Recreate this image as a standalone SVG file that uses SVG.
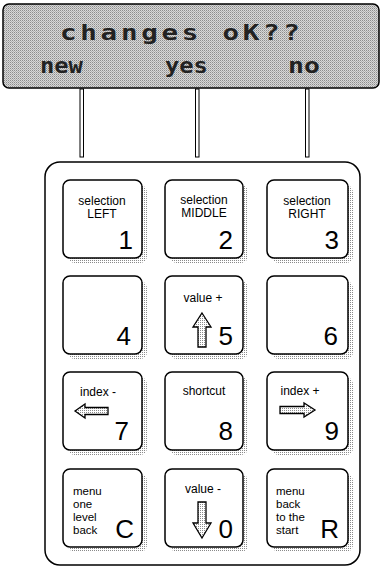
<svg xmlns="http://www.w3.org/2000/svg" width="382" height="567" viewBox="0 0 382 567">
<style>
.key{fill:#fff;stroke:#000;stroke-width:1.5}
.sh{fill:url(#dots)}
.lbl{font-family:"Liberation Sans",Arial,sans-serif;font-size:12px;fill:#000;text-anchor:middle}
.lt{font-family:"Liberation Sans",Arial,sans-serif;font-size:11.5px;fill:#000}
.big{font-family:"Liberation Sans",Arial,sans-serif;font-size:26px;fill:#000;text-anchor:end}
.lcd{font-family:"DejaVu Sans Mono","Liberation Mono",monospace;font-weight:bold;fill:#222;font-size:22px}
.arr{fill:url(#dots);stroke:#000;stroke-width:1.3;stroke-linejoin:miter}
.bar{fill:#fff;stroke:#000;stroke-width:1}
</style>
<defs>
<pattern id="dots" width="2" height="2" patternUnits="userSpaceOnUse">
<rect width="2" height="2" fill="#fff"/>
<rect width="1" height="1" fill="#8a8a8a"/>
</pattern>
<pattern id="lcdbg" width="2" height="2" patternUnits="userSpaceOnUse">
<rect width="2" height="2" fill="#d8d8d8"/>
<rect width="1" height="1" fill="#8c8c8c"/>
<rect x="1" y="1" width="1" height="1" fill="#b0b0b0"/>
</pattern>
</defs>
<rect width="382" height="567" fill="#fff"/>

<g id="lcd">
<rect x="3" y="4" width="376" height="84" rx="6" fill="url(#lcdbg)" stroke="#000" stroke-width="1.5"/>
<text class="lcd" transform="translate(60 40) scale(1.25 1)" x="0" y="0" letter-spacing="3">changes oK??</text>
<text class="lcd" transform="translate(40 73) scale(1.08 1)" x="0" y="0">new</text>
<text class="lcd" transform="translate(165 73) scale(1.08 1)" x="0" y="0">yes</text>
<text class="lcd" transform="translate(288 73) scale(1.2 1)" x="0" y="0">no</text>
</g>

<g id="connectors">
<rect class="bar" x="80" y="89" width="3.5" height="68"/>
<rect class="bar" x="195.5" y="89" width="3.5" height="68"/>
<rect class="bar" x="305.5" y="89" width="3.5" height="68"/>
</g>

<g id="keypad">
<rect x="45" y="162" width="315" height="403" rx="15" fill="#fff" stroke="#000" stroke-width="1.5"/>
</g>

<g id="key-1">
<rect class="sh" x="68" y="185" width="79" height="78" rx="7"/>
<rect class="key" x="63" y="180" width="79" height="78" rx="7"/>
<text class="lbl" x="102" y="205">selection</text>
<text class="lbl" x="102" y="218">LEFT</text>
<text class="big" x="133" y="249">1</text>
</g>
<g id="key-2">
<rect class="sh" x="170" y="185" width="78" height="78" rx="7"/>
<rect class="key" x="165" y="180" width="78" height="78" rx="7"/>
<text class="lbl" x="204" y="204">selection</text>
<text class="lbl" x="204" y="217">MIDDLE</text>
<text class="big" x="233" y="249">2</text>
</g>
<g id="key-3">
<rect class="sh" x="272" y="185" width="81" height="78" rx="7"/>
<rect class="key" x="267" y="180" width="81" height="78" rx="7"/>
<text class="lbl" x="307" y="205">selection</text>
<text class="lbl" x="307" y="218">RIGHT</text>
<text class="big" x="339" y="249">3</text>
</g>

<g id="key-4">
<rect class="sh" x="68" y="281" width="79" height="78" rx="7"/>
<rect class="key" x="63" y="276" width="79" height="78" rx="7"/>
<text class="big" x="131" y="345">4</text>
</g>
<g id="key-5">
<rect class="sh" x="170" y="281" width="78" height="78" rx="7"/>
<rect class="key" x="165" y="276" width="78" height="78" rx="7"/>
<text class="lbl" x="203" y="302">value +</text>
<path class="arr" d="M202 313 L211 327 L206 327 L206 347 L198 347 L198 327 L193 327 Z"/>
<text class="big" x="233" y="345">5</text>
</g>
<g id="key-6">
<rect class="sh" x="272" y="281" width="81" height="78" rx="7"/>
<rect class="key" x="267" y="276" width="81" height="78" rx="7"/>
<text class="big" x="338" y="345">6</text>
</g>

<g id="key-7">
<rect class="sh" x="68" y="377" width="79" height="78" rx="7"/>
<rect class="key" x="63" y="372" width="79" height="78" rx="7"/>
<text class="lbl" x="98" y="396">index -</text>
<path class="arr" d="M75 411 L85 404 L85 407.5 L108 407.5 L108 414.5 L85 414.5 L85 418 Z"/>
<text class="big" x="129" y="440">7</text>
</g>
<g id="key-8">
<rect class="sh" x="170" y="377" width="78" height="78" rx="7"/>
<rect class="key" x="165" y="372" width="78" height="78" rx="7"/>
<text class="lbl" x="204" y="395">shortcut</text>
<text class="big" x="233" y="440">8</text>
</g>
<g id="key-9">
<rect class="sh" x="272" y="377" width="81" height="78" rx="7"/>
<rect class="key" x="267" y="372" width="81" height="78" rx="7"/>
<text class="lbl" x="300" y="395">index +</text>
<path class="arr" d="M315 410 L304 403 L304 406.5 L280 406.5 L280 413.5 L304 413.5 L304 417 Z"/>
<text class="big" x="339" y="440">9</text>
</g>

<g id="key-C">
<rect class="sh" x="68" y="474" width="79" height="78" rx="7"/>
<rect class="key" x="63" y="469" width="79" height="78" rx="7"/>
<text class="lt" x="73" y="495">menu</text>
<text class="lt" x="73" y="508">one</text>
<text class="lt" x="73" y="521">level</text>
<text class="lt" x="73" y="534">back</text>
<text class="big" x="134" y="538" font-size="28">C</text>
</g>
<g id="key-0">
<rect class="sh" x="170" y="474" width="78" height="78" rx="7"/>
<rect class="key" x="165" y="469" width="78" height="78" rx="7"/>
<text class="lbl" x="203" y="493">value -</text>
<path class="arr" d="M202 538 L211 523 L206 523 L206 502 L198 502 L198 523 L193 523 Z"/>
<text class="big" x="233" y="538" font-size="23">0</text>
</g>
<g id="key-R">
<rect class="sh" x="272" y="474" width="81" height="78" rx="7"/>
<rect class="key" x="267" y="469" width="81" height="78" rx="7"/>
<text class="lt" x="276" y="495">menu</text>
<text class="lt" x="276" y="508">back</text>
<text class="lt" x="276" y="521">to the</text>
<text class="lt" x="276" y="534">start</text>
<text class="big" x="339" y="538" font-size="28">R</text>
</g>
</svg>
